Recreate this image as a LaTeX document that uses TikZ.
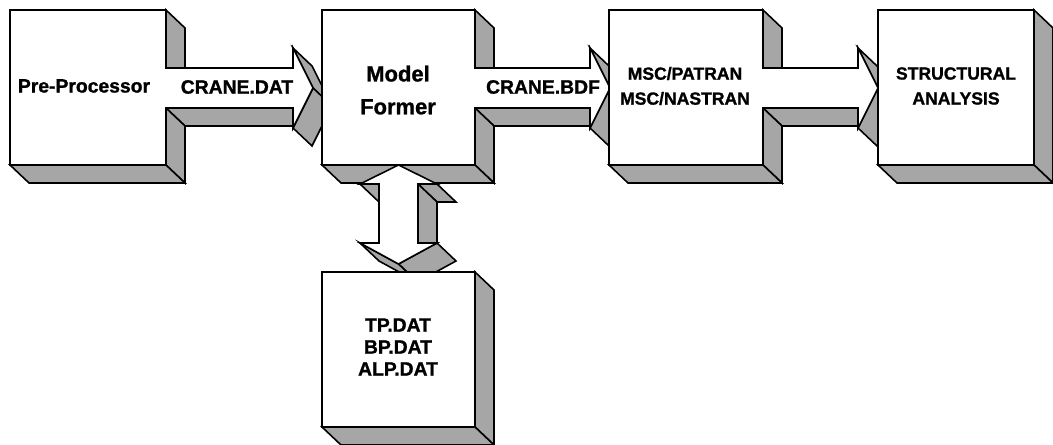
\documentclass[tikz,border=0pt]{standalone}
\usepackage{fontspec}
\setmainfont{Liberation Sans}[BoldFeatures={FakeBold=1.2}]

\tikzset{
	sideface/.style={fill=black!35, draw=black, line width=0.9pt},
	frontface/.style={fill=white, draw=black, line width=0.9pt},
	lbl/.style={font=\bfseries\fontsize{11}{13}\selectfont, align=center, inner sep=0pt}
}

% box with a block arrow leaving it to the right (left edge, right edge, head base)
\newcommand{\blockarrow}[3]{%
	\foreach \ax/\ay/\bx/\by in {#3/108/#2/108, #2/10/#2/68, #2/108/#2/165, #2/165/#1/165, #3/48/#3+20/88, #3+20/88/#3/128}
		\filldraw[sideface] (\ax,\ay) -- (\bx,\by) -- (\bx+19,\by+18) -- (\ax+19,\ay+18) -- cycle;
	\filldraw[frontface] (#1,10) -- (#2,10) -- (#2,68) -- (#3,68) -- (#3,48) -- (#3+20,88)
		-- (#3,128) -- (#3,108) -- (#2,108) -- (#2,165) -- (#1,165) -- cycle;
}
% plain box (left, top, right, bottom)
\newcommand{\plainblock}[4]{%
	\foreach \ax/\ay/\bx/\by in {#3/#2/#3/#4, #3/#4/#1/#4}
		\filldraw[sideface] (\ax,\ay) -- (\bx,\by) -- (\bx+19,\by+18) -- (\ax+19,\ay+18) -- cycle;
	\filldraw[frontface] (#1,#2) rectangle (#3,#4);
}

\begin{document}
\begin{tikzpicture}[x=0.02cm, y=-0.02cm]
		\useasboundingbox (0,0) rectangle (1053,445);
		% Blocks along the top row
		\blockarrow{10}{166}{293}
		\blockarrow{322}{475}{590}
		\blockarrow{609}{763}{858}
		\plainblock{878}{10}{1034}{165}
		% Double arrow below Model Former
		\foreach \ax/\ay/\bx/\by in {437/184/418/184, 418/184/418/243, 379/184/360/184, 437/243/398.5/264, 398.5/264/360/243}
			\filldraw[sideface] (\ax,\ay) -- (\bx,\by) -- (\bx+19,\by+18) -- (\ax+19,\ay+18) -- cycle;
		\filldraw[frontface] (398.5,165) -- (437,184) -- (418,184) -- (418,243) -- (437,243) -- (398.5,264)
			-- (360,243) -- (379,243) -- (379,184) -- (360,184) -- cycle;
		% Data files block
		\plainblock{322}{272}{475}{427}
		% Texts
		\node[lbl] (pre) at (84,86) {Pre-Processor};
		\node[lbl] (dat) at (237,87) {CRANE.DAT};
		\node[lbl, font=\bfseries\fontsize{12.5}{18.7}\selectfont] (former) at (398,90) {Model\\Former};
		\node[lbl] (bdf) at (543,87) {CRANE.BDF};
		\node[lbl, font=\bfseries\fontsize{10}{14.2}\selectfont] (msc) at (685,86) {MSC/PATRAN\\MSC/NASTRAN};
		\node[lbl, font=\bfseries\fontsize{10}{14.2}\selectfont] (analysis) at (956,86) {STRUCTURAL\\ANALYSIS};
		\node[lbl, font=\bfseries\fontsize{11}{12.5}\selectfont] (files) at (398,347) {TP.DAT\\BP.DAT\\ALP.DAT};
	\end{tikzpicture}
\end{document}
